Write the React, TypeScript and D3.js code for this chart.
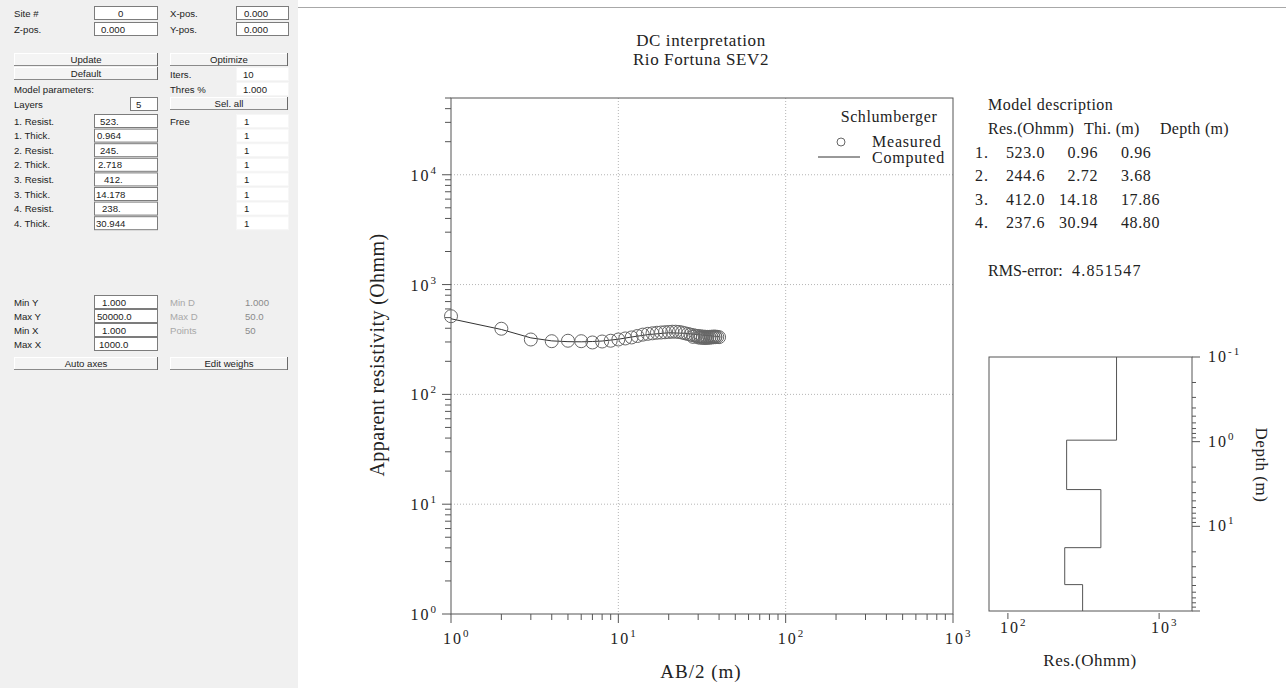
import React from "react";
import * as d3 from "d3";

const W = 1286;
const H = 688;

// Schlumberger sounding: AB/2 (m) and measured apparent resistivity (Ohm·m)
const abHalf = [
  1, 2, 3, 4, 5, 6, 7, 8, 9, 10,
  11, 12, 13, 14, 15, 16, 17, 18, 19, 20,
  21, 22, 23, 24, 25, 26, 27, 28, 29, 30,
  31, 32, 33, 34, 35, 36, 37, 38, 39, 40,
  28, 30, 31, 32, 33, 34, 35, 36, 37, 38,
];
const rhoMeasured = [
  515, 396, 316, 305, 308, 305, 297, 303, 308, 316,
  323, 330, 340, 350, 356, 360, 364, 366, 368, 370,
  372, 372, 370, 366, 360, 355, 350, 346, 342, 340,
  338, 336, 335, 334, 334, 335, 336, 336, 334, 332,
  334, 330, 328, 327, 326, 327, 328, 330, 331, 332,
];

// Response of the fitted model
const abComputed = [1, 2, 3, 4, 5, 6, 7, 8, 10, 12, 15, 20, 25, 30, 35, 40];
const rhoComputed = [488, 390, 327, 307, 302, 301, 303, 306, 318, 333, 350, 364, 360, 350, 342, 337];

// Fitted layered model
const layerNo = ["1.", "2.", "3.", "4."];
const layerRes = [523.0, 244.6, 412.0, 237.6];
const layerThick = [0.96, 2.72, 14.18, 30.94];
const layerDepth = [0.96, 3.68, 17.86, 48.8];
const halfSpaceRes = 312;
const rmsError = "4.851547";

// Form fields
const paramLabels = ["1. Resist.", "1. Thick.", "2. Resist.", "2. Thick.", "3. Resist.", "3. Thick.", "4. Resist.", "4. Thick."];
const paramValues = ["523.", "0.964", "245.", "2.718", "412.", "14.178", "238.", "30.944"];
const paramValueX = [100, 97, 100, 98, 104, 96, 102, 96];
const freeFlags = ["1", "1", "1", "1", "1", "1", "1", "1"];
const axisLabels = ["Min Y", "Max Y", "Min X", "Max X"];
const axisValues = ["1.000", "50000.0", "1.000", "1000.0"];
const axisValueX = [102, 97, 102, 99];
const infoLabels = ["Min D", "Max D", "Points"];
const infoValues = ["1.000", "50.0", "50"];

const SERIF = "'Liberation Serif', 'Times New Roman', serif";
const SANS = "'Liberation Sans', Arial, sans-serif";
const INK = "#222";
const AXIS = "#555";
const FORM_FONT = 9.6;

function Pow({ x, y, exp, anchor = "start", size = 16, supSize = 11, ls = 2 }: any) {
  return (
    <text x={x} y={y} textAnchor={anchor} fontFamily={SERIF} fontSize={size} fill={INK} letterSpacing={ls}>
      10
      <tspan dy={-7} fontSize={supSize}>{exp}</tspan>
    </text>
  );
}

function Button({ x, y, w, h, label }: any) {
  return (
    <g>
      <rect x={x} y={y} width={w} height={h} fill="#f4f4f4" />
      <line x1={x} y1={y + 0.5} x2={x + w} y2={y + 0.5} stroke="#fff" />
      <line x1={x + 0.5} y1={y} x2={x + 0.5} y2={y + h} stroke="#fff" />
      <line x1={x} y1={y + h - 0.5} x2={x + w} y2={y + h - 0.5} stroke="#8a8a8a" />
      <line x1={x + w - 0.5} y1={y} x2={x + w - 0.5} y2={y + h} stroke="#6a6a6a" />
      <text x={x + w / 2} y={y + h / 2 + 3.5} textAnchor="middle" fontFamily={SANS} fontSize={FORM_FONT} fill={INK}>
        {label}
      </text>
    </g>
  );
}

function Field({ x, cy, w, value, tx, framed = true }: any) {
  return (
    <g>
      <rect x={x + 0.5} y={cy - 6.5} width={w} height={13} fill="#fff" stroke={framed ? "#7c7c7c" : "#f6f6f6"} />
      <text x={tx} y={cy + 3.5} fontFamily={SANS} fontSize={FORM_FONT} fill={INK}>{value}</text>
    </g>
  );
}

function Label({ x, cy, text, fill = INK }: any) {
  return (
    <text x={x} y={cy + 3.5} fontFamily={SANS} fontSize={FORM_FONT} fill={fill}>{text}</text>
  );
}

function Panel() {
  const rowY = paramLabels.map((_, i) => 121 + i * 14.6);
  const axisY = axisLabels.map((_, i) => 302 + i * 14);
  return (
    <g>
      <rect x={0} y={0} width={298} height={H} fill="#f0f0f0" />
      <Label x={14} cy={13} text="Site #" />
      <Field x={94} cy={13} w={63} value="0" tx={118} />
      <Label x={170} cy={13} text="X-pos." />
      <Field x={236} cy={13} w={52} value="0.000" tx={244} />
      <Label x={14} cy={29} text="Z-pos." />
      <Field x={94} cy={29} w={63} value="0.000" tx={101} />
      <Label x={170} cy={29} text="Y-pos." />
      <Field x={236} cy={29} w={52} value="0.000" tx={244} />

      <Button x={14} y={53} w={144} h={13} label="Update" />
      <Button x={170} y={53} w={118} h={13} label="Optimize" />
      <Button x={14} y={67} w={144} h={13} label="Default" />
      <Label x={170} cy={74} text="Iters." />
      <Field x={236} cy={74} w={52} value="10" tx={243} framed={false} />
      <Label x={14} cy={89} text="Model parameters:" />
      <Label x={170} cy={89} text="Thres %" />
      <Field x={236} cy={89} w={52} value="1.000" tx={243} framed={false} />
      <Label x={14} cy={104} text="Layers" />
      <Field x={130} cy={104} w={27} value="5" tx={136} />
      <Button x={170} y={97} w={118} h={13} label="Sel. all" />
      <Label x={170} cy={121} text="Free" />

      {paramLabels.map((lab, i) => (
        <g key={lab}>
          <Label x={14} cy={rowY[i]} text={lab} />
          <Field x={94} cy={rowY[i]} w={63} value={paramValues[i]} tx={paramValueX[i]} />
          <Field x={236} cy={rowY[i]} w={52} value={freeFlags[i]} tx={244} framed={false} />
        </g>
      ))}

      {axisLabels.map((lab, i) => (
        <g key={lab}>
          <Label x={14} cy={axisY[i]} text={lab} />
          <Field x={94} cy={axisY[i]} w={63} value={axisValues[i]} tx={axisValueX[i]} />
        </g>
      ))}
      {infoLabels.map((lab, i) => (
        <g key={lab}>
          <Label x={170} cy={axisY[i]} text={lab} fill="#a8a8a8" />
          <Label x={245} cy={axisY[i]} text={infoValues[i]} fill="#8a8a8a" />
        </g>
      ))}
      <Button x={14} y={357} w={144} h={13} label="Auto axes" />
      <Button x={170} y={357} w={118} h={13} label="Edit weighs" />
    </g>
  );
}

function SoundingPlot() {
  const x = d3.scaleLog().domain([1, 1000]).range([451, 953]);
  const y = d3.scaleLog().domain([1, 50000]).range([614, 98]);
  const [x0, x1] = x.range();
  const [y0, y1] = y.range();
  const isMajor = (v: number) => Math.abs(Math.log10(v) - Math.round(Math.log10(v))) < 1e-9;
  const xTicks = x.ticks();
  const yTicks = y.ticks();
  const xDecades = xTicks.filter(isMajor);
  const yDecades = yTicks.filter(isMajor);

  const line = d3
    .line<number>()
    .x((_, i) => x(abComputed[i]))
    .y((d) => y(d));

  return (
    <g>
      {/* decade grid */}
      {xDecades.filter((v) => v > 1 && v < 1000).map((v) => (
        <line key={"gx" + v} x1={x(v)} x2={x(v)} y1={y1} y2={y0} stroke="#b5b5b5" strokeDasharray="1,2" />
      ))}
      {yDecades.filter((v) => v > 1).map((v) => (
        <line key={"gy" + v} x1={x0} x2={x1} y1={y(v)} y2={y(v)} stroke="#b5b5b5" strokeDasharray="1,2" />
      ))}

      {/* frame */}
      <rect x={x0} y={y1} width={x1 - x0} height={y0 - y1} fill="none" stroke={AXIS} />

      {/* ticks */}
      {xTicks.map((v) => (
        <line key={"tx" + v} x1={x(v)} x2={x(v)} y1={y0} y2={y0 + (isMajor(v) ? 9 : 6)} stroke={AXIS} />
      ))}
      {yTicks.map((v) => (
        <line key={"ty" + v} x1={x0} x2={x0 - (isMajor(v) ? 9 : 6)} y1={y(v)} y2={y(v)} stroke={AXIS} />
      ))}
      {xDecades.map((v) => (
        <Pow key={"lx" + v} x={x(v) - 8} y={644} exp={String(Math.round(Math.log10(v)))} />
      ))}
      {yDecades.map((v) => (
        <Pow key={"ly" + v} x={438} y={y(v) + 6} exp={String(Math.round(Math.log10(v)))} anchor="end" />
      ))}

      {/* data */}
      <path d={line(rhoComputed) || ""} fill="none" stroke="#333" strokeWidth={1} />
      {abHalf.map((a, i) => (
        <circle key={"m" + i} cx={x(a)} cy={y(rhoMeasured[i])} r={6.5} fill="none" stroke="#666" strokeWidth={1} />
      ))}

      {/* legend */}
      <text x={889} y={122} textAnchor="middle" fontFamily={SERIF} fontSize={16} fill={INK} letterSpacing={0.6}>Schlumberger</text>
      <circle cx={841} cy={142} r={4} fill="none" stroke="#666" />
      <text x={872} y={147} fontFamily={SERIF} fontSize={16} fill={INK} letterSpacing={0.8}>Measured</text>
      <line x1={818} x2={860} y1={157} y2={157} stroke="#333" />
      <text x={872} y={163} fontFamily={SERIF} fontSize={16} fill={INK} letterSpacing={0.8}>Computed</text>

      {/* axis titles */}
      <text x={701} y={678} textAnchor="middle" fontFamily={SERIF} fontSize={19} fill={INK} letterSpacing={1}>AB/2 (m)</text>
      <text transform="translate(384,355) rotate(-90)" textAnchor="middle" fontFamily={SERIF} fontSize={20} fill={INK} letterSpacing={0.4}>
        Apparent resistivity (Ohmm)
      </text>
    </g>
  );
}

function ModelTable() {
  const rowY = [158, 181, 205, 228];
  return (
    <g fontFamily={SERIF} fontSize={16} fill={INK}>
      <text x={988} y={110} letterSpacing={0.5}>Model description</text>
      <text x={988} y={134} letterSpacing={0.3}>Res.(Ohmm)</text>
      <text x={1084} y={134} letterSpacing={0.3}>Thi. (m)</text>
      <text x={1160} y={134} letterSpacing={0.3}>Depth (m)</text>
      {layerRes.map((r, i) => (
        <g key={i}>
          <text x={975} y={rowY[i]} letterSpacing={1}>{layerNo[i]}</text>
          <text x={1006} y={rowY[i]} letterSpacing={0.6}>{r.toFixed(1)}</text>
          <text x={1098} y={rowY[i]} textAnchor="end" letterSpacing={0.6}>{layerThick[i].toFixed(2)}</text>
          <text x={1121} y={rowY[i]} letterSpacing={0.6}>{layerDepth[i].toFixed(2)}</text>
        </g>
      ))}
      <text x={988} y={276}>RMS-error:</text>
      <text x={1072} y={276} letterSpacing={1.2}>{rmsError}</text>
    </g>
  );
}

function ModelPlot() {
  const x = d3.scaleLog().domain([75, 1650]).range([989, 1192]);
  const y = d3.scaleLog().domain([0.1, 100]).range([357, 611]);
  const [x0, x1] = x.range();
  const [y0, y1] = y.range();
  const dTicks = y.ticks();
  const isMajor = (v: number) => Math.abs(Math.log10(v) - Math.round(Math.log10(v))) < 1e-9;

  // step profile: resistivity vs depth
  const res = [...layerRes, halfSpaceRes];
  const bounds = [0.1, ...layerDepth, 100];
  const pts: [number, number][] = [];
  res.forEach((r, i) => {
    pts.push([x(r), y(bounds[i])]);
    pts.push([x(r), y(bounds[i + 1])]);
  });
  const step = d3.line();

  return (
    <g>
      <rect x={x0} y={y0} width={x1 - x0} height={y1 - y0} fill="none" stroke={AXIS} />
      <path d={step(pts) || ""} fill="none" stroke={AXIS} strokeWidth={1} />
      {dTicks.map((v) => (
        <line key={"d" + v} x1={x1} x2={x1 + (isMajor(v) ? 8 : 4)} y1={y(v)} y2={y(v)} stroke={AXIS} />
      ))}
      {[0.1, 1, 10].map((v) => (
        <Pow key={"dl" + v} x={1208} y={y(v) + 5} exp={String(Math.round(Math.log10(v)))} />
      ))}
      {[100, 1000].map((v) => (
        <g key={"r" + v}>
          <line x1={x(v)} x2={x(v)} y1={y1 + 2} y2={y1 + 8} stroke={AXIS} />
          <Pow x={x(v) - 8} y={633} exp={String(Math.round(Math.log10(v)))} />
        </g>
      ))}
      <text x={1090} y={666} textAnchor="middle" fontFamily={SERIF} fontSize={17} fill={INK} letterSpacing={0.5}>Res.(Ohmm)</text>
      <text transform="translate(1256,465) rotate(90)" textAnchor="middle" fontFamily={SERIF} fontSize={17} fill={INK} letterSpacing={0.5}>
        Depth (m)
      </text>
    </g>
  );
}

export default function App() {
  return (
    <div style={{ position: "absolute", left: 0, top: 0, width: W, height: H, background: "#fff" }}>
      <svg width={W} height={H} viewBox={`0 0 ${W} ${H}`} style={{ display: "block" }}>
        <rect x={0} y={0} width={W} height={H} fill="#fff" />
        <Panel />
        <line x1={298} x2={W} y1={7.5} y2={7.5} stroke="#a8a8a8" />
        <text x={701} y={46} textAnchor="middle" fontFamily={SERIF} fontSize={17} fill={INK} letterSpacing={0.6}>DC interpretation</text>
        <text x={701} y={65} textAnchor="middle" fontFamily={SERIF} fontSize={17} fill={INK} letterSpacing={0.6}>Rio Fortuna SEV2</text>
        <SoundingPlot />
        <ModelTable />
        <ModelPlot />
      </svg>
    </div>
  );
}
